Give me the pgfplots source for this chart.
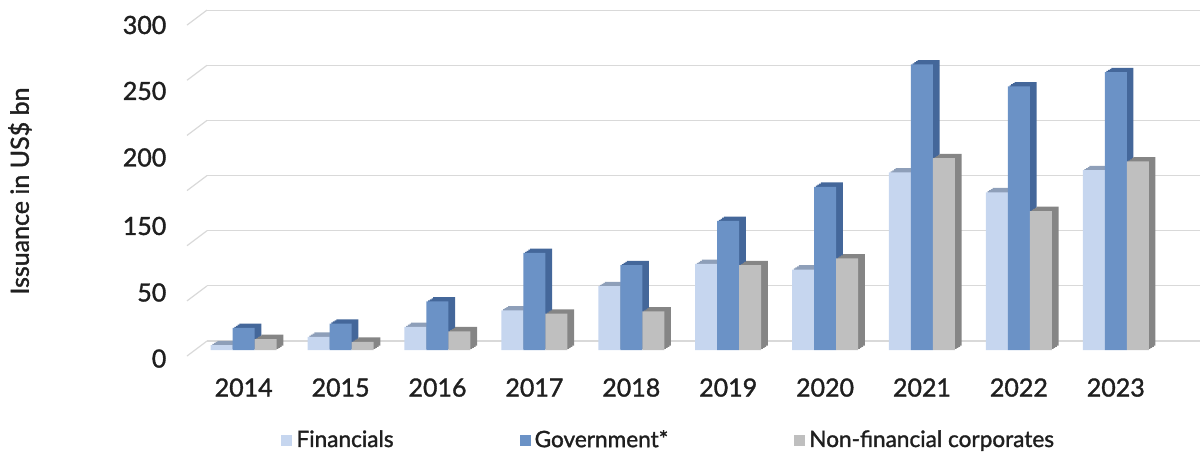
\documentclass[border=0pt]{standalone}
\usepackage{pgfplots}
\pgfplotsset{compat=1.18}
\usepackage{pgfplotstable}
\usepackage{fontspec}
\setmainfont{Lato}[UprightFeatures={FakeBold=1.4}]
\definecolor{finc}{HTML}{C6D6EF}
\definecolor{fins}{HTML}{8E9FB9}
\definecolor{govc}{HTML}{6B92C6}
\definecolor{govs}{HTML}{44679A}
\definecolor{nfc}{HTML}{BFBFBF}
\definecolor{nfs}{HTML}{858585}
\definecolor{gridc}{HTML}{D9D9D9}

\pgfplotstableread{
i year fin gov nf
0 2014 4.5 20 10
1 2015 12 24 7.5
2 2016 21 44 17
3 2017 36 88 33
4 2018 58 77 35
5 2019 78 117 77
6 2020 73 148 83
7 2021 161 259 174
8 2022 143 239 126
9 2023 163 252 171
}\data

\newcommand\series[4]{%
  \addplot[ybar, bar width=11pt, draw=none, bar shift=#2, fill=#4, xshift=3.35pt, yshift=-2.35pt, forget plot] table[x=i,y=#1]{\data};
  \addplot[ybar, bar width=11pt, draw=none, bar shift=#2, fill=#4, xshift=2.5125pt, yshift=-2.8875pt, forget plot] table[x=i,y=#1]{\data};
  \addplot[ybar, bar width=11pt, draw=none, bar shift=#2, fill=#4, xshift=1.675pt, yshift=-3.425pt, forget plot] table[x=i,y=#1]{\data};
  \addplot[ybar, bar width=11pt, draw=none, bar shift=#2, fill=#4, xshift=0.8375pt, yshift=-3.9625pt, forget plot] table[x=i,y=#1]{\data};
  \addplot[ybar, bar width=11pt, draw=none, bar shift=#2, fill=#3, yshift=-4.5pt, forget plot] table[x=i,y=#1]{\data};
}

\begin{document}
\begin{tikzpicture}
\begin{axis}[
  scale only axis, width=496.5pt, height=179.25pt,
  xmin=-0.3787, xmax=9.869, ymin=-20, ymax=305,
  clip=false,
  axis line style={draw=none}, major tick length=0pt,
  xtick={0,...,9},
  xticklabels={2014,2015,2016,2017,2018,2019,2020,2021,2022,2023},
  ytick={0,50,...,300}, yticklabels={},
  ymajorgrids, grid style={gridc, line width=0.6pt},
  extra y ticks={286.5,226.7,166.4,104.3,44,-15.9},
  extra y tick labels={300,250,200,150,50,0},
  extra y tick style={grid=none},
  /pgf/number format/assume math mode=true,
  tick label style={font=\fontsize{12.5}{15}\selectfont, text=black!88},
  yticklabel style={anchor=east, xshift=-16.8pt},
  xticklabel style={anchor=center, yshift=-12.25pt},
  ylabel={Issuance in US\$ bn},
  every axis y label/.style={at={(axis description cs:-0.1883,0.48)}, anchor=center, rotate=90, font=\fontsize{12.5}{15}\selectfont, text=black!88},
  legend columns=3,
  legend image code/.code={\fill[#1] (0pt,-2.75pt) rectangle (5.5pt,2.75pt);},
  legend style={at={(axis description cs:0.466,-0.215)}, anchor=center, draw=none, fill=none,
    font=\fontsize{11.3}{13}\selectfont, text=black!88,
    /tikz/every even column/.append style={column sep=61pt}},
]
\pgfplotsinvokeforeach{0,50,...,300}{\draw[gridc, line width=0.6pt] (axis cs:-0.3787,#1) -- ++(-10pt,-7.5pt);}
\series{fin}{-11pt}{finc}{fins}
\series{gov}{0pt}{govc}{govs}
\series{nf}{11pt}{nfc}{nfs}
\addlegendimage{fill=finc, draw=none}\addlegendentry{Financials}
\addlegendimage{fill=govc, draw=none}\addlegendentry{Government*}
\addlegendimage{fill=nfc, draw=none}\addlegendentry{Non-financial corporates}
\coordinate (SW) at (rel axis cs:0,0);
\coordinate (NE) at (rel axis cs:1,1);
\end{axis}
\pgfresetboundingbox
\path ([xshift=-103.5pt,yshift=-45.5pt]SW) rectangle ([yshift=2.3pt]NE);
\end{tikzpicture}
\end{document}
